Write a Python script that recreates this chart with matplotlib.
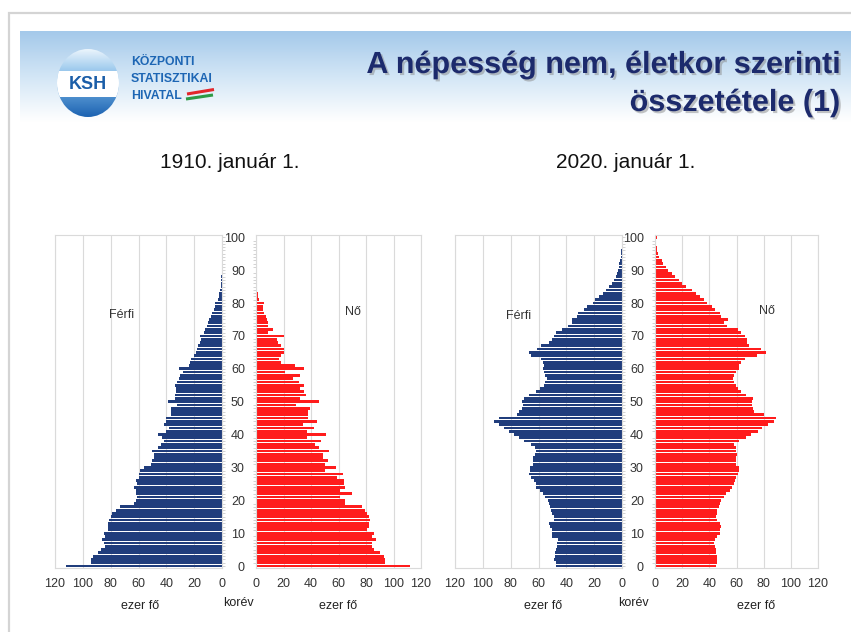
import numpy as np
import matplotlib
matplotlib.use("Agg")
import matplotlib.pyplot as plt
from matplotlib.patches import Ellipse, Rectangle
from matplotlib.colors import to_rgb
import matplotlib.patheffects as pe

# ---------------- data (thousand persons, by single year of age) ----------------
ages = list(range(101))

male_1910 = [112, 94, 94, 93, 89, 87, 84, 85, 86, 84,
             85, 82, 82, 82, 81, 80, 79, 76, 73, 63,
             62, 61, 62, 62, 63, 61, 62, 60, 60, 59,
             56, 51, 50, 49, 49, 50, 46, 44, 42, 43,
             46, 40, 38, 42, 40, 40, 37, 37, 37, 32,
             39, 34, 34, 33, 33, 34, 32, 31, 30, 28,
             31, 24, 23, 22, 20, 19, 18, 17, 16, 15,
             16, 13, 12, 11, 10, 9, 8, 7, 6, 5,
             5, 3, 2.5, 2, 1.5, 1, 0.8, 0.6, 0.4, 0.3,
             0.2, 0.15, 0.1, 0.1, 0.05, 0.05, 0, 0, 0, 0,
             0]

female_1910 = [112, 94, 94, 93, 90, 86, 84, 84, 87, 84,
               86, 81, 82, 82, 83, 82, 81, 79, 77, 65,
               65, 61, 70, 61, 65, 64, 64, 59, 63, 50,
               58, 50, 52, 49, 49, 53, 46, 43, 47, 37,
               51, 37, 42, 34, 44, 38, 38, 38, 39, 29,
               46, 32, 36, 35, 32, 35, 31, 27, 32, 21,
               35, 28, 18, 17, 18, 20, 20, 18, 16, 15,
               20, 9, 12, 9, 9, 8, 7, 6, 5, 5,
               6, 2, 1.5, 1.2, 0.9, 0.7, 0.5, 0.4, 0.3, 0.2,
               0.2, 0.1, 0.1, 0.1, 0.05, 0.05, 0, 0, 0, 0,
               0]

male_2020 = [47.7, 47.7, 49, 48, 48, 47.7, 47, 46.5, 45.8, 50,
             50.6, 50, 52, 52.5, 49, 49, 50, 51.3, 52, 52.5,
             53, 55, 57, 59, 62, 62, 63, 65.7, 67, 66,
             66, 64, 64, 64, 62.6, 61.6, 62.6, 65.7, 70.5, 74,
             77.7, 81, 85, 88.5, 92, 88.5, 75.5, 74, 72, 71,
             72, 70.5, 67, 61.6, 59, 56, 55, 53.7, 55.4, 56,
             57, 56, 57, 58.5, 65.7, 67, 61, 58.5, 52.5, 50.6,
             49, 47.7, 43, 39, 36, 35.7, 32, 31.4, 27, 25,
             21, 19.4, 16.5, 14, 11.8, 9.4, 7.4, 5.8, 4.6, 3.8,
             3.1, 2.4, 1.9, 1.4, 1.0, 0.7, 0.5, 0.35, 0.25, 0.15,
             0.3]

female_2020 = [45, 45.6, 46, 46, 45, 45, 44, 43.4, 44, 46,
               47.6, 48, 48.3, 47.6, 45.6, 45, 45.6, 46, 47, 47.6,
               48.8, 50.5, 52.4, 55, 57, 57.8, 59, 59.8, 61, 61.7,
               61.7, 59.8, 59.8, 59.8, 60.2, 59.8, 59.8, 58.5, 62, 67,
               70.7, 75.6, 79, 83, 87.8, 89, 80, 73, 72, 71.5,
               71.5, 72, 67, 63.4, 61, 59.8, 58.5, 57.3, 58.5, 59.8,
               61.7, 62, 63.4, 66, 75, 82, 78, 69, 68, 68,
               66, 63.4, 61, 53, 51, 53.6, 48.8, 47.6, 44, 42,
               38, 36, 33, 30, 27, 23, 20, 17.8, 14.6, 12.2,
               9.8, 8, 6, 4.9, 3.2, 2.4, 1.8, 1.2, 0.8, 0.5,
               1.5]

x_ticks = [0, 20, 40, 60, 80, 100, 120]
age_ticks = [0, 10, 20, 30, 40, 50, 60, 70, 80, 90, 100]

title_lines = ["A népesség nem, életkor szerinti", "összetétele (1)"]
subtitles = ["1910. január 1.", "2020. január 1."]

# ---------------- figure ----------------
W, H = 851, 632
plt.rcParams["font.family"] = ["Liberation Sans", "DejaVu Sans"]
fig = plt.figure(figsize=(W / 100, H / 100), dpi=100)
fig.patch.set_facecolor("white")

bg = fig.add_axes([0, 0, 1, 1], zorder=0)
bg.axis("off")

# slide shadow / border
bg.add_patch(Rectangle((9, 13), W, H, facecolor="white", edgecolor="#d4d4d4", lw=1.6, zorder=0))

# header gradient band
top = np.array(to_rgb("#a4c9ea"))
mid = np.array(to_rgb("#d3e6f6"))
n = 100
grad = np.zeros((n, 2, 3))
for i in range(n):
    t = i / (n - 1)
    if t < 0.5:
        c = top + (mid - top) * (t / 0.5)
    else:
        c = mid + (np.ones(3) - mid) * ((t - 0.5) / 0.5)
    grad[i, :, :] = c
bg.imshow(grad, extent=(20, W, 122, 31), origin="upper", aspect="auto", zorder=1,
          interpolation="bilinear")

# logo
ell = Ellipse((88, 83), 62, 68, facecolor="none", edgecolor="none", zorder=2)
bg.add_patch(ell)
lc_top = np.array(to_rgb("#eaf4fc"))
lc_mid = np.array(to_rgb("#79b6e6"))
lc_bot = np.array(to_rgb("#1d63b2"))
lg = np.zeros((60, 2, 3))
for i in range(60):
    t = i / 59
    if t < 0.45:
        c = lc_top + (lc_mid - lc_top) * (t / 0.45)
    else:
        c = lc_mid + (lc_bot - lc_mid) * ((t - 0.45) / 0.55)
    lg[i, :, :] = c
im = bg.imshow(lg, extent=(57, 119, 117, 49), origin="upper", aspect="auto", zorder=2,
               interpolation="bilinear")
im.set_clip_path(ell)
band = Rectangle((50, 71), 76, 26, facecolor="white", edgecolor="none", zorder=3)
bg.add_patch(band)
band.set_clip_path(ell)
bg.text(88, 84.5, "KSH", ha="center", va="center", fontsize=13, fontweight="bold",
        color="#1b5ea8", zorder=4)
for txt, yy in [("KÖZPONTI", 62), ("STATISZTIKAI", 79), ("HIVATAL", 96)]:
    bg.text(131, yy, txt, ha="left", va="center", fontsize=8.8, fontweight="bold",
            color="#1d66b4", zorder=4)
bg.plot([187, 214], [94, 89.5], color="#e3262b", lw=2.2, solid_capstyle="butt", zorder=4)
bg.plot([186, 213], [99, 95], color="#2e9a45", lw=2.2, solid_capstyle="butt", zorder=4)

# title
shadow = [pe.SimplePatchShadow(offset=(1.5, -1.5), shadow_rgbFace="#8a8a8a", alpha=0.5), pe.Normal()]
bg.text(840, 65, title_lines[0], ha="right", va="center", fontsize=22, fontweight="bold",
        color="#1c2a6c", path_effects=shadow, zorder=5)
bg.text(840, 103, title_lines[1], ha="right", va="center", fontsize=22, fontweight="bold",
        color="#1c2a6c", path_effects=shadow, zorder=5)

# subtitles
bg.text(230, 163, subtitles[0], ha="center", va="center", fontsize=15, color="#111111")
bg.text(626, 163, subtitles[1], ha="center", va="center", fontsize=15, color="#111111")

# axis titles
for x, y, t in [(140, 606, "ezer fő"), (238, 603, "korév"), (338, 606, "ezer fő"),
                (543, 606, "ezer fő"), (633, 603, "korév"), (756, 606, "ezer fő")]:
    bg.text(x, y, t, ha="center", va="center", fontsize=9, color="#222222")

bg.set_xlim(0, W)
bg.set_ylim(H, 0)

# ---------------- pyramids ----------------
MALE_C = "#203d7c"
FEMALE_C = "#ff1c1c"
GRID_C = "#dadada"
PLOT_TOP, PLOT_BOT = 235, 568


def fig_rect(x0, x1):
    return [x0 / W, 1 - PLOT_BOT / H, (x1 - x0) / W, (PLOT_BOT - PLOT_TOP) / H]


def style(ax):
    ax.set_ylim(-0.6, 100.7)
    ax.set_xticks(x_ticks)
    ax.set_xticklabels([str(v) for v in x_ticks])
    ax.tick_params(axis="x", length=0, pad=7, labelsize=9, labelcolor="#333333")
    ax.grid(axis="x", color=GRID_C, lw=0.8)
    ax.set_axisbelow(True)
    for s in ax.spines.values():
        s.set_color(GRID_C)
        s.set_linewidth(0.8)


def pyramid(xm0, xm1, xf0, xf1, male, female):
    axm = fig.add_axes(fig_rect(xm0, xm1), zorder=2)
    axm.barh(ages, male, height=0.84, color=MALE_C, linewidth=0)
    axm.set_xlim(120, 0)
    style(axm)
    axm.yaxis.tick_right()
    axm.set_yticks([])
    axm.set_yticks(range(0, 101), minor=True)
    axm.tick_params(axis="y", which="minor", length=2, width=0.5, color="#c0c0c0")

    axf = fig.add_axes(fig_rect(xf0, xf1), zorder=2)
    axf.barh(ages, female, height=0.84, color=FEMALE_C, linewidth=0)
    axf.set_xlim(0, 120)
    style(axf)
    axf.set_yticks(age_ticks)
    axf.set_yticklabels([str(v) for v in age_ticks])
    axf.tick_params(axis="y", which="major", length=0, pad=8, labelsize=9, labelcolor="#333333")
    axf.set_yticks(range(0, 101), minor=True)
    axf.tick_params(axis="y", which="minor", length=2, width=0.5, color="#c0c0c0")
    return axm, axf


pyramid(55, 222, 256, 421, male_1910, female_1910)
pyramid(455, 622, 655, 818, male_2020, female_2020)

# in-chart labels above the pyramid axes
lab = fig.add_axes([0, 0, 1, 1], zorder=5)
lab.axis("off")
lab.set_xlim(0, W)
lab.set_ylim(H, 0)
for x, y, t in [(122, 315, "Férfi"), (353, 312, "Nő"), (519, 316, "Férfi"), (767, 311, "Nő")]:
    lab.text(x, y, t, ha="center", va="center", fontsize=9, color="#333333")

fig.savefig("out.png", dpi=100)
